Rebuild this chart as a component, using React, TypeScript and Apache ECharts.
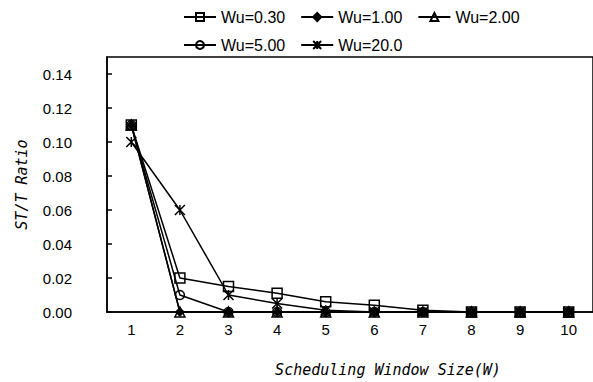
import React, { useEffect, useRef } from "react";
import * as echarts from "echarts";

const categories = ["1", "2", "3", "4", "5", "6", "7", "8", "9", "10"];
const seriesNames = ["Wu=0.30", "Wu=1.00", "Wu=2.00", "Wu=5.00", "Wu=20.0"];
const wu030 = [0.11, 0.02, 0.015, 0.011, 0.006, 0.004, 0.001, 0, 0, 0];
const wu100 = [0.11, 0, 0, 0, 0, 0, 0, 0, 0, 0];
const wu200 = [0.11, 0, 0, 0, 0, 0, 0, 0, 0, 0];
const wu500 = [0.11, 0.01, 0, 0, 0, 0, 0, 0, 0, 0];
const wu200b = [0.1, 0.06, 0.01, 0.005, 0.001, 0, 0, 0, 0, 0];

const STAR = "path://M0,0L10,10M10,0L0,10M5,0L5,10";

export default function App() {
  const ref = useRef<HTMLDivElement>(null);
  useEffect(() => {
    if (!ref.current) return;
    const chart = echarts.init(ref.current, undefined, { renderer: "svg" });
    const hollow = {
      color: "rgba(0,0,0,0)",
      borderColor: "#000",
      borderWidth: 1.5,
    };
    const mk = (name: string, data: number[], symbol: string, size: number, itemStyle: any) => ({
      name,
      type: "line",
      data,
      symbol,
      symbolSize: size,
      showAllSymbol: true,
      lineStyle: { color: "#000", width: 1.5 },
      itemStyle,
      z: 3,
    });
    const legendBase = {
      left: 178,
      itemWidth: 32,
      itemHeight: 10,
      itemGap: 15,
      textStyle: { fontFamily: "Liberation Sans", fontSize: 16, color: "#000" },
    };
    chart.setOption({
      animation: false,
      backgroundColor: "#fff",
      legend: [
        { ...legendBase, top: 4, data: seriesNames.slice(0, 3) },
        { ...legendBase, top: 32, data: seriesNames.slice(3) },
      ],
      grid: {
        left: 107,
        right: -1,
        top: 57,
        bottom: 60,
        show: true,
        borderColor: "#000",
        borderWidth: 1.5,
        backgroundColor: "transparent",
      },
      xAxis: {
        type: "category",
        data: categories,
        boundaryGap: true,
        name: "Scheduling Window Size(W)",
        nameLocation: "middle",
        nameGap: 50,
        nameTextStyle: {
          fontFamily: "DejaVu Sans Mono",
          fontStyle: "italic",
          fontSize: 15,
          color: "#000",
          padding: [0, 0, 0, 76],
        },
        axisLine: { lineStyle: { color: "#000", width: 1.5 } },
        axisTick: { inside: true, length: 5, lineStyle: { color: "#000", width: 1.5 } },
        axisLabel: { fontFamily: "Liberation Sans", fontSize: 15, color: "#000", margin: 10 },
      },
      yAxis: {
        type: "value",
        min: 0,
        max: 0.15,
        interval: 0.02,
        name: "ST/T Ratio",
        nameLocation: "middle",
        nameGap: 78,
        nameTextStyle: {
          fontFamily: "DejaVu Sans Mono",
          fontStyle: "italic",
          fontSize: 15,
          color: "#000",
        },
        splitLine: { show: false },
        axisLine: { show: true, lineStyle: { color: "#000", width: 1.5 } },
        axisTick: { show: true, inside: true, length: 5, lineStyle: { color: "#000", width: 1.5 } },
        axisLabel: {
          fontFamily: "Liberation Sans",
          fontSize: 15,
          color: "#000",
          margin: 35,
          showMaxLabel: false,
          formatter: (v: number) => v.toFixed(2),
        },
      },
      series: [
        mk(seriesNames[0], wu030, "rect", 10, hollow),
        mk(seriesNames[1], wu100, "diamond", 9, { color: "#000", borderColor: "#000", borderWidth: 1 }),
        mk(seriesNames[2], wu200, "triangle", 10, hollow),
        mk(seriesNames[3], wu500, "circle", 9, hollow),
        mk(seriesNames[4], wu200b, STAR, 10, hollow),
      ],
    });
    return () => chart.dispose();
  }, []);
  return (
    <div style={{ position: "absolute", left: 0, top: 0, width: 593, height: 382, overflow: "hidden" }}>
      <div ref={ref} style={{ width: 593, height: 382 }} />
    </div>
  );
}
